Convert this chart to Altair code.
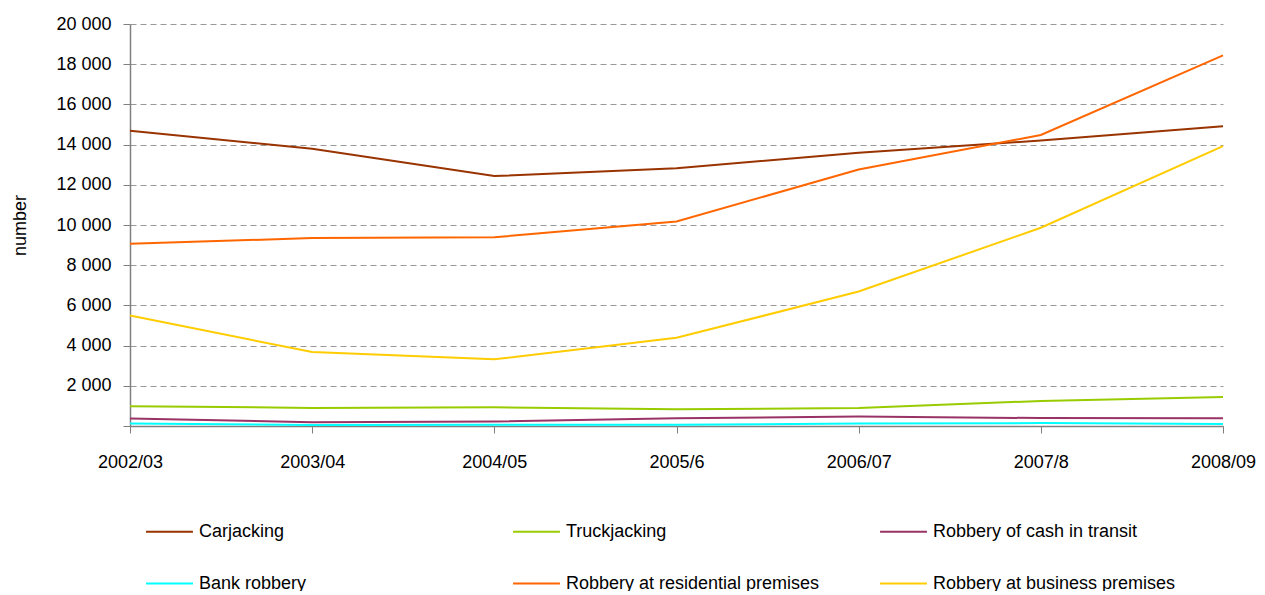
import altair as alt
import pandas as pd

years = ["2002/03", "2003/04", "2004/05", "2005/6", "2006/07", "2007/8", "2008/09"]
series_names = [
    "Carjacking",
    "Truckjacking",
    "Robbery of cash in transit",
    "Bank robbery",
    "Robbery at residential premises",
    "Robbery at business premises",
]
carjacking = [14691, 13793, 12434, 12825, 13599, 14201, 14915]
truckjacking = [986, 901, 930, 829, 892, 1245, 1437]
cash_in_transit = [374, 192, 220, 383, 467, 395, 386]
bank_robbery = [127, 54, 58, 59, 129, 144, 102]
residential = [9063, 9351, 9391, 10173, 12761, 14481, 18438]
business = [5498, 3677, 3320, 4387, 6689, 9862, 13920]
colors = ["#993300", "#99CC00", "#993366", "#00FFFF", "#FF6600", "#FFCC00"]
y_ticks = list(range(0, 20001, 2000))

all_values = [carjacking, truckjacking, cash_in_transit, bank_robbery, residential, business]
rows = []
for name, vals in zip(series_names, all_values):
    for yr, v in zip(years, vals):
        rows.append({"year": yr, "series": name, "value": v})
df = pd.DataFrame(rows)

# legend fills column by column (2 rows): reorder so rows read as in the reference
legend_order = [0, 3, 1, 4, 2, 5]
legend_domain = [series_names[i] for i in legend_order]
legend_range = [colors[i] for i in legend_order]

FONT = "Liberation Sans"
FS = 18

chart = (
    alt.Chart(df)
    .mark_line(strokeWidth=2)
    .encode(
        x=alt.X(
            "year:N",
            sort=years,
            scale=alt.Scale(type="point", padding=0),
            axis=alt.Axis(
                title=None,
                labelAngle=0,
                labelFont=FONT,
                labelFontSize=FS,
                labelColor="#000000",
                labelPadding=20,
                tickSize=7,
                tickColor="#808080",
                domainColor="#808080",
                domainWidth=1.5,
                grid=False,
            ),
        ),
        y=alt.Y(
            "value:Q",
            scale=alt.Scale(domain=[0, 20000], nice=False),
            axis=alt.Axis(
                title="number",
                titleFont=FONT,
                titleFontSize=FS,
                titleFontWeight="normal",
                titleColor="#000000",
                titlePadding=26,
                values=y_ticks,
                labelExpr="datum.value == 0 ? '' : replace(format(datum.value, ','), ',', ' ')",
                labelFont=FONT,
                labelFontSize=FS,
                labelColor="#000000",
                labelPadding=12,
                tickSize=7,
                tickColor="#808080",
                domainColor="#808080",
                domainWidth=1.5,
                grid=True,
                gridColor="#999999",
                gridDash=[6, 4],
                gridWidth=1,
            ),
        ),
        color=alt.Color(
            "series:N",
            scale=alt.Scale(domain=legend_domain, range=legend_range),
            legend=alt.Legend(
                title=None,
                orient="none",
                legendX=15,
                legendY=483,
                columns=3,
                gridAlign="all",
                columnPadding=56,
                rowPadding=18,
                symbolType="stroke",
                symbolSize=2200,
                symbolStrokeWidth=2,
                labelFont=FONT,
                labelFontSize=FS,
                labelColor="#000000",
                labelOffset=5,
                labelLimit=400,
            ),
        ),
    )
    .properties(
        width=1093,
        height=402,
        autosize=alt.AutoSizeParams(type="none"),
        padding={"left": 122, "top": 16, "right": 34, "bottom": 165},
    )
    .configure_view(stroke=None)
)

chart.save("out.html", embed_options={"renderer": "svg", "actions": False})
